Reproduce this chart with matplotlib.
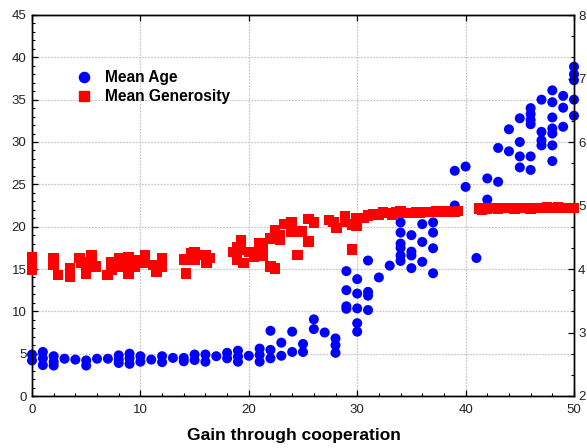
import matplotlib
matplotlib.use("Agg")
import matplotlib.pyplot as plt
from matplotlib.ticker import MultipleLocator
from matplotlib.lines import Line2D

plt.rcParams['font.family'] = ['Liberation Sans', 'DejaVu Sans']

# ---- Data ----
age_gain = [0, 0,
            1, 1, 1,
            2, 2, 2,
            3, 4, 5, 5, 6, 7,
            8, 8, 8,
            9, 9, 9,
            10, 10, 11, 12, 12, 13, 14, 14, 15, 15, 16, 16, 17,
            18, 18, 19, 19, 19, 20, 21, 21, 21,
            22, 22, 22, 23, 23, 24, 24, 25, 25, 26, 26, 27,
            28, 28, 28,
            29, 29, 29, 29,
            30, 30, 30, 30, 30,
            31, 31, 31, 31, 32, 33,
            34, 34, 34, 34, 34, 34,
            35, 35, 35, 35,
            36, 36, 36,
            37, 37, 37, 37,
            39, 39, 40, 40, 41, 42, 42, 43, 43, 44, 44,
            45, 45, 45, 45,
            46, 46, 46, 46, 46, 46,
            47, 47, 47, 47,
            48, 48, 48, 48, 48, 48, 48,
            49, 49, 49,
            50, 50, 50, 50, 50]
age_value = [4.9, 4.2,
             5.2, 4.45, 3.65,
             4.7, 4.05, 3.6,
             4.4, 4.3, 4.2, 3.6, 4.4, 4.4,
             4.8, 4.3, 3.9,
             5.0, 4.45, 3.8,
             4.7, 4.05, 4.3, 4.7, 4.0, 4.5, 4.5, 4.1, 4.9, 4.25, 4.9, 4.05, 4.7,
             5.1, 4.45, 5.35, 4.65, 4.05, 4.75, 5.6, 4.85, 4.05,
             7.7, 5.45, 4.45, 6.3, 4.75, 7.6, 5.2, 6.15, 5.2, 9.05, 7.9, 7.5,
             6.8, 6.0, 5.1,
             14.75, 12.5, 10.6, 10.3,
             13.8, 12.1, 10.35, 8.6, 7.6,
             16.0, 12.3, 11.85, 10.15, 14.0, 15.4,
             20.5, 19.3, 18.0, 17.5, 16.6, 15.95,
             19.0, 17.05, 16.6, 15.1,
             20.3, 18.2, 15.85,
             20.5, 19.3, 17.45, 14.5,
             26.6, 22.5, 27.1, 24.7, 16.3, 25.7, 23.2, 29.3, 25.3, 31.5, 28.9,
             32.8, 30.0, 28.3, 27.0,
             34.0, 33.3, 32.6, 32.1, 28.3, 26.7,
             35.0, 31.2, 30.2, 29.6,
             36.1, 34.7, 32.9, 31.6, 31.0, 29.6, 27.75,
             35.45, 34.05, 31.8,
             38.9, 38.0, 37.3, 35.0, 33.1]

gen_gain = [0, 0, 0, 2, 2, 2.4, 3.5, 3.5, 4.4, 4.5, 5, 5, 5.5, 5.5, 5.9,
            6.95, 7.35, 7.35, 8.0, 8.0, 8.9, 8.9, 8.9, 9.5, 9.5, 10.4, 10.4,
            11.2, 11.5, 12, 12, 14.0, 14.2, 14.7, 15, 15, 16, 16.1, 16.4,
            18.6, 18.9, 18.9, 19.3, 19.5, 19.3, 20, 20.5, 21, 21, 21.3, 21.3,
            22, 22, 22.4, 22.4, 22.4, 22.9, 22.9, 23.3, 23.95, 23.95, 24.5, 24.9,
            25.5, 25.5, 26, 27.4, 27.8, 28.1, 28.9, 28.9, 29.5, 29.5, 29.95, 29.95,
            30.6, 31, 31.5, 32, 32.4, 32.8, 33.2, 33.6, 34, 34.5, 35, 35.4, 35.8,
            36.3, 36.7, 37.3, 37.7, 38.2, 38.6, 39.0, 39.3,
            41.3, 41.5, 42, 42.5, 43, 43.5, 44, 44.5, 45, 45.5, 46, 46.5, 47,
            47.5, 48, 48.5, 49, 49.5, 50]
gen_value = [4.19, 4.09, 3.98, 4.17, 4.06, 3.91, 4.01, 3.88, 4.17, 4.10, 4.11, 3.93,
             4.22, 4.09, 4.04, 3.91, 4.11, 3.98, 4.17, 4.04, 4.19, 4.06, 3.93,
             4.14, 4.04, 4.22, 4.09, 4.06, 3.96, 4.17, 4.04, 4.15, 3.93, 4.25,
             4.27, 4.15, 4.22, 4.09, 4.17,
             4.27, 4.35, 4.14, 4.46, 4.09, 4.30, 4.27, 4.19, 4.40, 4.27, 4.33, 4.20,
             4.48, 4.04, 4.61, 4.51, 4.01, 4.54, 4.46, 4.71, 4.74, 4.59, 4.22, 4.59,
             4.79, 4.43, 4.73, 4.77, 4.74, 4.65, 4.83, 4.74, 4.31, 4.70, 4.80, 4.68,
             4.80, 4.84, 4.86, 4.86, 4.89, 4.88, 4.86, 4.89, 4.91, 4.88, 4.88, 4.90,
             4.88, 4.90, 4.90, 4.91, 4.90, 4.91, 4.90, 4.90, 4.91,
             4.95, 4.93, 4.95, 4.96, 4.95, 4.96, 4.96, 4.95, 4.96, 4.96, 4.95, 4.96,
             4.96, 4.97, 4.96, 4.97, 4.96, 4.96, 4.96]

x_ticks = [0, 10, 20, 30, 40, 50]
left_ticks = [0, 5, 10, 15, 20, 25, 30, 35, 40, 45]
right_ticks = [2, 3, 4, 5, 6, 7, 8]

# ---- Figure ----
fig = plt.figure(figsize=(5.87, 4.48), dpi=100)
ax = fig.add_axes([32 / 587, 1 - 396 / 448, 542 / 587, 381 / 448])
ax2 = ax.twinx()

tick_color = '#222222'
ax.set_xlim(0, 50)
ax.set_ylim(0, 45)
ax2.set_ylim(2, 8)
ax.set_xticks(x_ticks)
ax.set_yticks(left_ticks)
ax2.set_yticks(right_ticks)
ax.xaxis.set_minor_locator(MultipleLocator(2))
ax.yaxis.set_minor_locator(MultipleLocator(1))
ax2.yaxis.set_minor_locator(MultipleLocator(1 / 3))

ax.grid(True, which='major', color='#c8c8c8', linestyle=(0, (1.5, 1)), linewidth=0.9)
ax.set_axisbelow(True)

ax.tick_params(axis='both', which='major', direction='in', length=4, width=0.9,
               labelsize=9.5, colors='black', labelcolor=tick_color, top=True, right=False)
ax.tick_params(axis='both', which='minor', direction='in', length=2.5, width=0.8,
               top=False, right=False)
ax.tick_params(axis='y', which='major', pad=4)
ax.tick_params(axis='x', which='major', pad=6)
ax2.tick_params(axis='y', which='major', direction='in', length=4, width=0.9,
                labelsize=9.5, labelcolor=tick_color, pad=3)
ax2.tick_params(axis='y', which='minor', direction='in', length=2.5, width=0.8)

for a in (ax, ax2):
    for s in a.spines.values():
        s.set_linewidth(1.0)
        s.set_color('black')

ax.scatter(age_gain, age_value, s=52, marker='o', color='#0000ff',
           edgecolors='none', clip_on=False, zorder=3)
ax2.scatter(gen_gain, gen_value, s=56, marker='s', color='#ff0000',
            edgecolors='none', clip_on=False, zorder=3)

fig.text(293.5 / 587, 1 - 435 / 448, 'Gain through cooperation', fontsize=12.5,
         fontweight='bold', ha='center', va='center')

handles = [Line2D([], [], marker='o', color='#0000ff', linestyle='none', markersize=7.3),
           Line2D([], [], marker='s', color='#ff0000', linestyle='none', markersize=7.3)]
ax2.legend(handles, ['Mean Age', 'Mean Generosity'], loc='upper left',
           bbox_to_anchor=(0.068, 0.876), frameon=False, borderpad=0,
           handlelength=1.0, handletextpad=0.85, labelspacing=0.28,
           prop={'weight': 'bold', 'size': 11.2})

fig.savefig('out.png', dpi=100)
